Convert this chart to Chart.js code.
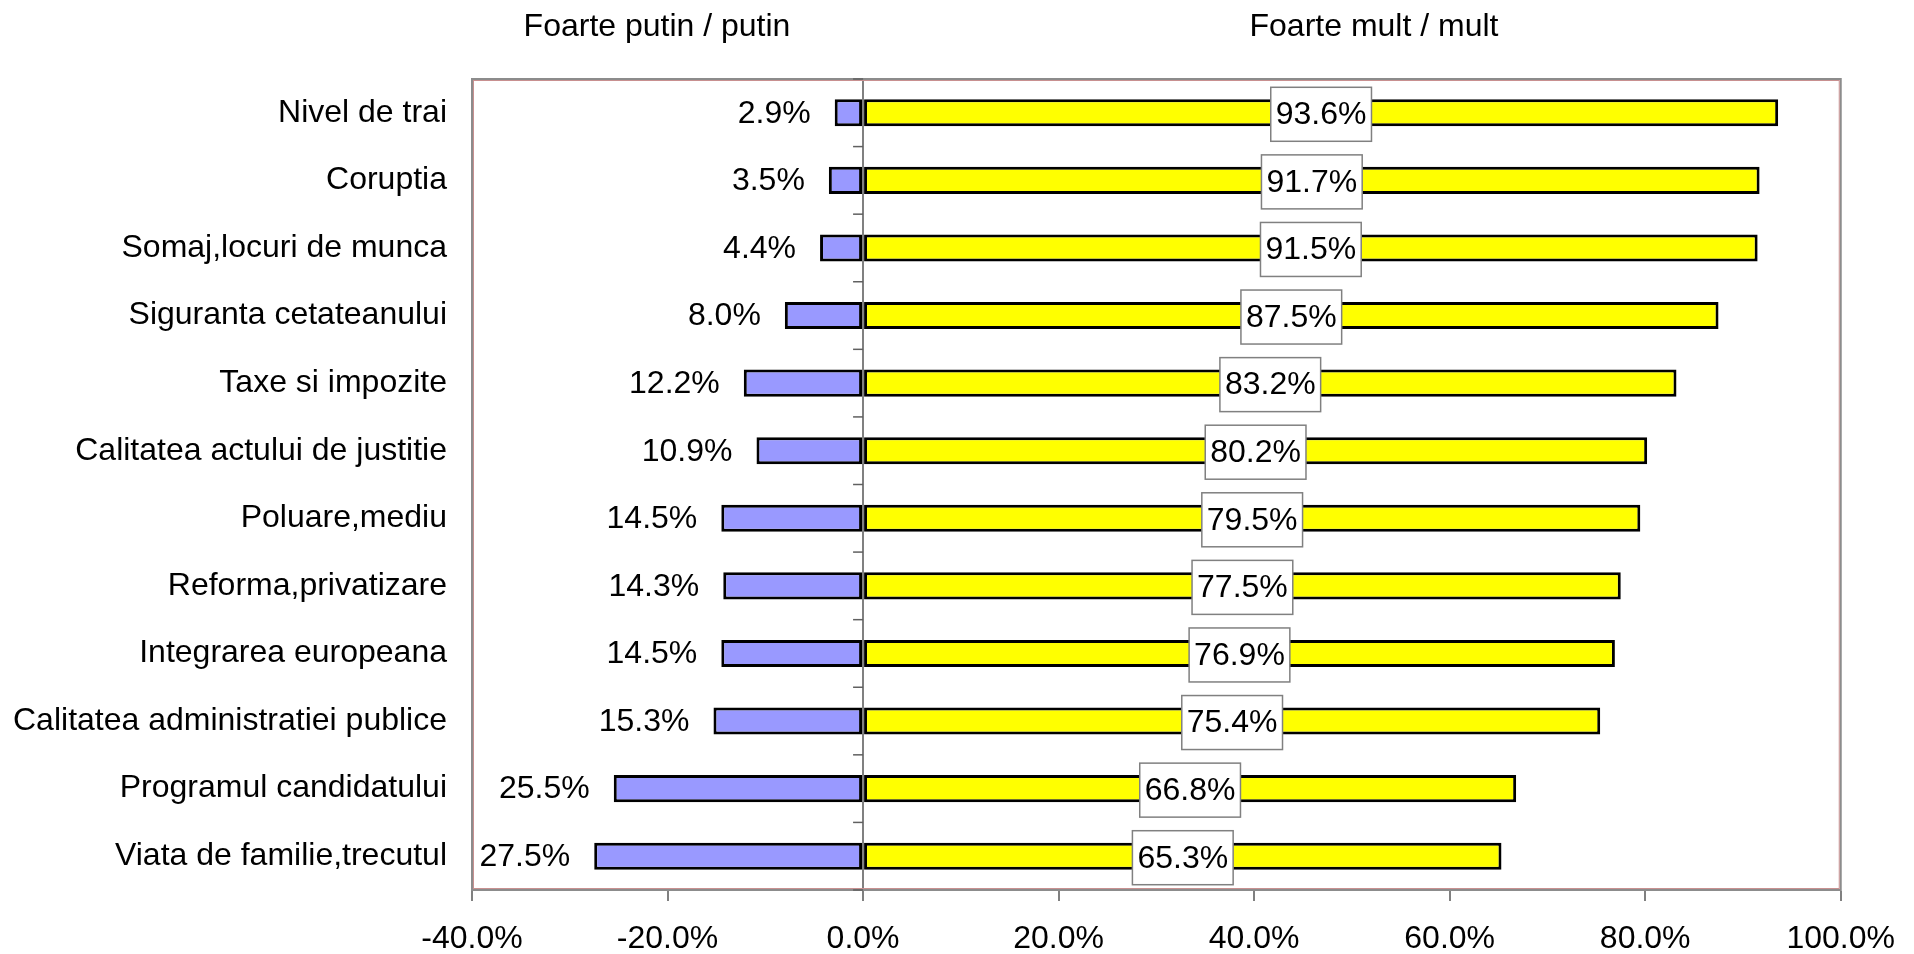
<!DOCTYPE html>
<html>
<head>
<meta charset="utf-8">
<script src="https://cdn.jsdelivr.net/npm/chart.js@4/dist/chart.umd.min.js"></script>
<style>
html,body{margin:0;padding:0;background:#ffffff;}
#wrap{width:1914px;height:954px;position:relative;}
</style>
</head>
<body>
<div id="wrap"><canvas id="c" width="1914" height="954"></canvas></div>
<script>
const categories = [
  'Nivel de trai',
  'Coruptia',
  'Somaj,locuri de munca',
  'Siguranta cetateanului',
  'Taxe si impozite',
  'Calitatea actului de justitie',
  'Poluare,mediu',
  'Reforma,privatizare',
  'Integrarea europeana',
  'Calitatea administratiei publice',
  'Programul candidatului',
  'Viata de familie,trecutul'
];
const seriesNames = ['Foarte putin / putin', 'Foarte mult / mult'];
const putinValues = [2.9, 3.5, 4.4, 8.0, 12.2, 10.9, 14.5, 14.3, 14.5, 15.3, 25.5, 27.5];
const multValues  = [93.6, 91.7, 91.5, 87.5, 83.2, 80.2, 79.5, 77.5, 76.9, 75.4, 66.8, 65.3];
const xTickValues = [-40, -20, 0, 20, 40, 60, 80, 100];

const FONT = '"Liberation Sans", Arial, sans-serif';
const fmt = v => v.toFixed(1) + '%';

const framePlugin = {
  id: 'frame',
  beforeDatasetsDraw(chart) {
    const {ctx, chartArea: a, scales} = chart;
    ctx.save();
    ctx.strokeStyle = '#8c8c8c';
    ctx.lineWidth = 2;
    ctx.strokeRect(a.left, a.top, a.right - a.left, a.bottom - a.top);
    ctx.strokeStyle = '#c89090';
    ctx.lineWidth = 1;
    ctx.strokeRect(a.left + 1.5, a.top + 1.5, a.right - a.left - 3, a.bottom - a.top - 3);
    const x0 = scales.x.getPixelForValue(0);
    const ys = scales.y;
    ctx.strokeStyle = '#606060';
    ctx.lineWidth = 1.5;
    for (let i = 0; i <= categories.length; i++) {
      const y = ys.getPixelForValue(i - 0.5);
      ctx.beginPath();
      ctx.moveTo(x0 - 10, y);
      ctx.lineTo(x0, y);
      ctx.stroke();
    }
    ctx.restore();
  },
  afterDatasetsDraw(chart) {
    const {ctx} = chart;
    ctx.save();
    ctx.font = '32px ' + FONT;
    ctx.textBaseline = 'middle';
    const m0 = chart.getDatasetMeta(0);
    const m1 = chart.getDatasetMeta(1);
    m0.data.forEach((bar, i) => {
      ctx.textAlign = 'right';
      ctx.fillStyle = '#000';
      ctx.fillText(fmt(putinValues[i]), bar.x - 24, bar.y + 1);
    });
    m1.data.forEach((bar, i) => {
      const txt = fmt(multValues[i]);
      const cx = (bar.x + bar.base) / 2;
      const cy = bar.y + 1.5;
      const w = ctx.measureText(txt).width + 10;
      const h = 54;
      ctx.fillStyle = '#ffffff';
      ctx.fillRect(cx - w / 2, cy - h / 2, w, h);
      ctx.strokeStyle = '#808080';
      ctx.lineWidth = 1.5;
      ctx.strokeRect(cx - w / 2, cy - h / 2, w, h);
      ctx.fillStyle = '#000';
      ctx.textAlign = 'center';
      ctx.fillText(txt, cx, cy + 1);
    });
    ctx.restore();
  },
  afterDraw(chart) {
    const {ctx} = chart;
    ctx.save();
    ctx.font = '32px ' + FONT;
    ctx.fillStyle = '#000';
    ctx.textAlign = 'center';
    ctx.textBaseline = 'alphabetic';
    ctx.fillText(seriesNames[0], 657, 36);
    ctx.fillText(seriesNames[1], 1374, 36);
    ctx.restore();
  }
};

new Chart(document.getElementById('c'), {
  type: 'bar',
  data: {
    labels: categories,
    datasets: [
      {
        label: seriesNames[0],
        data: putinValues.map(v => -v),
        backgroundColor: '#9999ff',
        borderColor: '#000000',
        borderWidth: 3,
        borderSkipped: false,
        barPercentage: 0.4,
        categoryPercentage: 1.0
      },
      {
        label: seriesNames[1],
        data: multValues,
        backgroundColor: '#ffff00',
        borderColor: '#000000',
        borderWidth: 3,
        borderSkipped: false,
        barPercentage: 0.4,
        categoryPercentage: 1.0
      }
    ]
  },
  options: {
    indexAxis: 'y',
    responsive: false,
    animation: false,
    devicePixelRatio: 1,
    layout: { padding: { top: 79, right: 73, bottom: 0, left: 0 } },
    plugins: {
      legend: { display: false },
      tooltip: { enabled: false },
      title: { display: false }
    },
    scales: {
      x: {
        stacked: true,
        min: -40,
        max: 100,
        afterBuildTicks(scale) { scale.ticks = xTickValues.map(v => ({ value: v })); },
        afterFit(scale) { scale.height = 64; },
        ticks: {
          color: '#000',
          font: { size: 32, family: FONT },
          padding: 19,
          maxRotation: 0,
          autoSkip: false,
          callback: v => fmt(v)
        },
        grid: {
          drawOnChartArea: true,
          drawTicks: true,
          tickLength: 11,
          color: c => (c.tick && c.tick.value === 0) ? '#808080' : 'rgba(0,0,0,0)',
          lineWidth: c => (c.tick && c.tick.value === 0) ? 2 : 0,
          tickColor: '#808080',
          tickWidth: 2
        },
        border: { display: true, color: '#808080', width: 2 }
      },
      y: {
        stacked: true,
        afterFit(scale) { scale.width = 472; },
        ticks: {
          color: '#000',
          font: { size: 32, family: FONT },
          padding: 25,
          autoSkip: false
        },
        grid: { display: false, drawTicks: false },
        border: { display: false }
      }
    }
  },
  plugins: [framePlugin]
});
</script>
</body>
</html>
